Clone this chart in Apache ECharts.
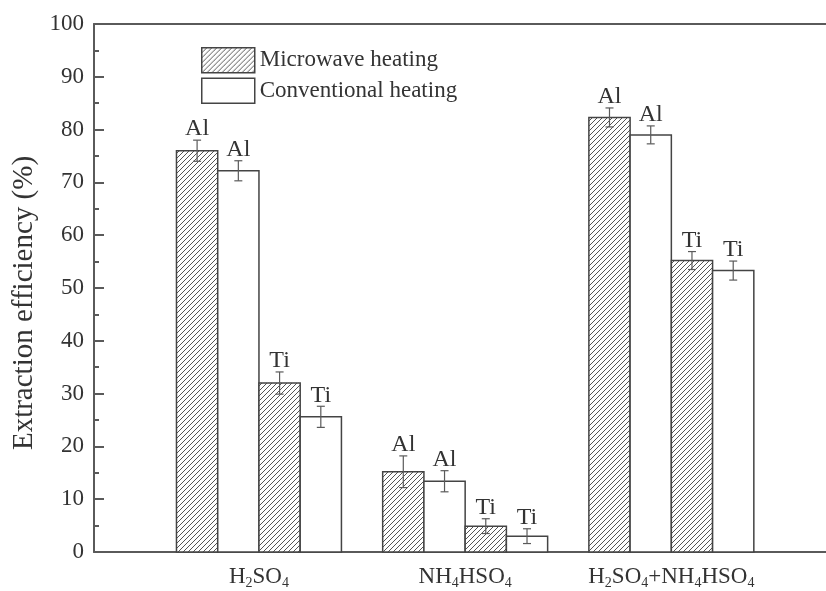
<!DOCTYPE html>
<html>
<head>
<meta charset="utf-8">
<script src="https://cdn.jsdelivr.net/npm/echarts@6/dist/echarts.min.js"></script>
<style>html,body{margin:0;padding:0;background:#fff;}#chart{width:826px;height:591px;}</style>
</head>
<body>
<div id="chart"></div>
<script>
// ---- data ----
const categories = ['H2SO4', 'NH4HSO4', 'H2SO4+NH4HSO4'];
const microwaveAl = [76.0, 15.2, 82.3];
const microwaveAlErr = [2.0, 3.0, 1.8];
const conventionalAl = [72.2, 13.4, 79.0];
const conventionalAlErr = [1.9, 2.0, 1.7];
const microwaveTi = [32.0, 4.9, 55.2];
const microwaveTiErr = [2.1, 1.4, 1.7];
const conventionalTi = [25.6, 3.0, 53.3];
const conventionalTiErr = [2.0, 1.4, 1.8];
const yTicks = [0, 10, 20, 30, 40, 50, 60, 70, 80, 90, 100];
const legendNames = ['Microwave heating', 'Conventional heating'];

const FONT = "'Liberation Serif', 'Times New Roman', serif";
const TEXT = '#333';
const LINE = '#5a5a5a';

function hatchPattern() {
  const p = 5;
  const c = document.createElement('canvas');
  c.width = p; c.height = p;
  const g = c.getContext('2d');
  g.fillStyle = '#fff';
  g.fillRect(0, 0, p, p);
  g.strokeStyle = '#555';
  g.lineWidth = 1;
  g.beginPath();
  g.moveTo(0, p); g.lineTo(p, 0);
  g.moveTo(-1, 1); g.lineTo(1, -1);
  g.moveTo(p - 1, p + 1); g.lineTo(p + 1, p - 1);
  g.stroke();
  return { image: c, repeat: 'repeat' };
}
const hatch = hatchPattern();

// slots: each bar takes one unit on the x scale; groups of 4 bars, 1 unit gap
const GROUP_STEP = 5, GROUP_START = 2, X_MAX = 17.75;
function subRich(s) {
  return s.replace(/(\d+)|([^\d]+)/g, (m, d, t) => d ? '{s|' + d + '}' : '{n|' + t + '}');
}

function makeSeries(name, vals, errs, slot, fill, elem) {
  return {
    type: 'custom',
    name: name,
    xAxisIndex: 0, yAxisIndex: 0,
    itemStyle: { color: fill, borderColor: '#444', borderWidth: 1.5 },
    data: vals.map((v, i) => [i, v, errs[i]]),
    renderItem: function (params, api) {
      const k = api.value(0), v = api.value(1), e = api.value(2);
      const x0 = GROUP_START + GROUP_STEP * k + slot;
      const tl = api.coord([x0, v]);
      const br = api.coord([x0 + 1, 0]);
      const cx = (tl[0] + br[0]) / 2;
      const top = api.coord([x0, v + e])[1];
      const bot = api.coord([x0, v - e])[1];
      const cap = 4;
      return {
        type: 'group',
        children: [
          { type: 'rect', shape: { x: tl[0], y: tl[1], width: br[0] - tl[0], height: br[1] - tl[1] },
            style: { fill: fill, stroke: '#444', lineWidth: 1.5 } },
          { type: 'polyline', shape: { points: [[cx, top], [cx, bot]] }, style: { stroke: LINE, lineWidth: 1.2, fill: null } },
          { type: 'polyline', shape: { points: [[cx - cap, top], [cx + cap, top]] }, style: { stroke: LINE, lineWidth: 1.2, fill: null } },
          { type: 'polyline', shape: { points: [[cx - cap, bot], [cx + cap, bot]] }, style: { stroke: LINE, lineWidth: 1.2, fill: null } },
          { type: 'text', style: { text: elem, x: cx, y: top + 1, align: 'center', verticalAlign: 'bottom',
            fontSize: 24, fontFamily: FONT, fill: TEXT } }
        ]
      };
    }
  };
}

const chart = echarts.init(document.getElementById('chart'), null, { renderer: 'canvas' });
const labelMap = {};
categories.forEach((c, i) => { labelMap[GROUP_START + GROUP_STEP * i + 2] = c; });

chart.setOption({
  animation: false,
  backgroundColor: '#fff',
  grid: { left: 94, top: 24, bottom: 39, right: 0, containLabel: false },
  legend: {
    left: 201, top: 47, orient: 'vertical', padding: 0,
    itemWidth: 53, itemHeight: 25, itemGap: 4,
    textStyle: { fontSize: 23, fontFamily: FONT, color: TEXT },
    data: [
      { name: legendNames[0], icon: 'rect', itemStyle: { color: hatch, borderColor: '#444', borderWidth: 1.5 } },
      { name: legendNames[1], icon: 'rect', itemStyle: { color: '#fff', borderColor: '#444', borderWidth: 1.5 } }
    ]
  },
  xAxis: [
    {
      type: 'value', min: 0, max: X_MAX, interval: 1, position: 'bottom',
      axisLine: { show: true, onZero: false, lineStyle: { color: LINE, width: 2 } },
      axisTick: { show: false }, splitLine: { show: false },
      axisLabel: {
        margin: 12, fontFamily: FONT, color: TEXT, showMaxLabel: false,
        formatter: v => labelMap[v] ? subRich(labelMap[v]) : '',
        rich: {
          n: { fontSize: 23, fontFamily: FONT, color: TEXT, lineHeight: 26 },
          s: { fontSize: 14, fontFamily: FONT, color: TEXT, lineHeight: 21, verticalAlign: 'bottom' }
        }
      }
    },
    {
      type: 'value', min: 0, max: X_MAX, position: 'top',
      axisLine: { show: true, onZero: false, lineStyle: { color: LINE, width: 2 } },
      axisTick: { show: false }, splitLine: { show: false }, axisLabel: { show: false }
    }
  ],
  yAxis: {
    type: 'value', min: yTicks[0], max: yTicks[yTicks.length - 1], interval: yTicks[1] - yTicks[0],
    name: 'Extraction efficiency (%)', nameLocation: 'middle', nameGap: 55,
    nameTextStyle: { fontSize: 29, fontFamily: FONT, color: TEXT, padding: [0, 30, 0, 0] },
    axisLine: { show: true, onZero: false, lineStyle: { color: LINE, width: 2 } },
    axisTick: { show: true, inside: true, length: 10, lineStyle: { color: LINE, width: 2 } },
    minorTick: { show: true, splitNumber: 2, length: 5, lineStyle: { color: LINE, width: 2 } },
    splitLine: { show: false },
    axisLabel: { margin: 10, fontSize: 23, fontFamily: FONT, color: TEXT }
  },
  series: [
    makeSeries(legendNames[0], microwaveAl, microwaveAlErr, 0, hatch, 'Al'),
    makeSeries(legendNames[1], conventionalAl, conventionalAlErr, 1, '#fff', 'Al'),
    makeSeries(legendNames[0], microwaveTi, microwaveTiErr, 2, hatch, 'Ti'),
    makeSeries(legendNames[1], conventionalTi, conventionalTiErr, 3, '#fff', 'Ti')
  ]
});
</script>
</body>
</html>
